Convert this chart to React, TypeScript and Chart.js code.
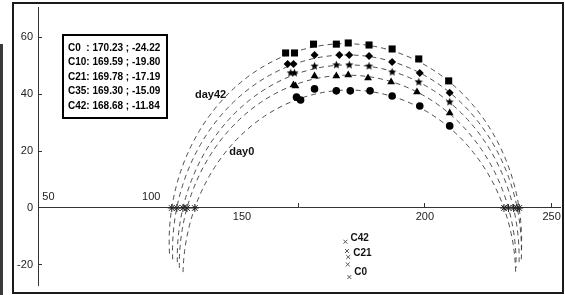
import { useEffect, useRef } from 'react';
import { Chart, registerables } from 'chart.js';
Chart.register(...registerables);

// ---- data ----
const yTicks = [-20, 0, 20, 40, 60];
const xTicks = [150, 200, 250];
const xTick50 = [50];
const xTick100 = [100];
const xTick150 = [150];

const day42X = [145.1, 148.6, 156.1, 165.1, 169.8, 178.0, 187.1, 197.6, 209.4];
const day42Y = [54.4, 54.4, 57.5, 57.5, 57.9, 57.2, 55.8, 52.3, 44.6];
const day35X = [145.9, 148.2, 156.5, 166.3, 170.2, 178.0, 187.1, 198.0, 209.8];
const day35Y = [50.5, 50.5, 53.7, 53.7, 53.7, 53.3, 51.2, 47.4, 40.4];
const day21X = [147.1, 148.6, 156.5, 165.1, 170.2, 178.0, 187.1, 197.6, 209.8];
const day21Y = [47.4, 47.4, 49.8, 50.2, 50.2, 49.8, 47.7, 44.2, 37.2];
const day10X = [148.2, 149.0, 156.5, 165.1, 169.8, 177.6, 186.7, 196.9, 209.8];
const day10Y = [43.2, 42.8, 46.3, 46.3, 46.7, 45.6, 44.2, 40.7, 33.3];
const day0X = [149.4, 151.0, 156.5, 165.1, 170.6, 178.4, 187.1, 198.0, 209.8];
const day0Y = [38.9, 37.9, 41.8, 41.1, 41.1, 41.1, 39.3, 35.8, 28.8];

const centerNames = ['C0', 'C10', 'C21', 'C35', 'C42'];
const centerX = [170.23, 169.59, 169.78, 169.3, 168.68];
const centerY = [-24.22, -19.8, -17.19, -15.09, -11.84];
const centerLabelShown = [true, false, true, false, true];
const arcRadius = [65.6, 66.4, 67.4, 68.8, 69.5];
const arcEndY = [-22.5, -21, -19, -18, -16];
const interceptLeftX = [109.3, 106.2, 104.6, 102.2, 100.2];
const interceptRightX = [231.2, 233.0, 235.0, 236.4, 237.2];

const curveLabels = ['day42', 'day0'];
const curveLabelX = [115.5, 127.8];
const curveLabelY = [39.6, 19.6];

const X_MIN = 47.45;
const X_MAX = 253.3;
const Y_MIN = -27.02;
const Y_MAX = 70.53;

const FONT = '"Liberation Sans", Arial, sans-serif';

function pts(xs: number[], ys: number[]) {
  return xs.map((x, i) => ({ x, y: ys[i] }));
}

function makeStar(r: number) {
  const c = document.createElement('canvas');
  const size = Math.ceil(r * 2) + 2;
  c.width = size;
  c.height = size;
  const g = c.getContext('2d')!;
  g.fillStyle = '#000';
  g.beginPath();
  for (let i = 0; i < 10; i++) {
    const rad = i % 2 === 0 ? r : r * 0.45;
    const ang = -Math.PI / 2 + (i * Math.PI) / 5;
    g.lineTo(size / 2 + rad * Math.cos(ang), size / 2 + rad * Math.sin(ang));
  }
  g.closePath();
  g.fill();
  return c;
}

const decorPlugin = {
  id: 'decor',
  beforeDraw(chart: any) {
    const ctx = chart.ctx;
    ctx.save();
    ctx.fillStyle = '#fff';
    ctx.fillRect(0, 0, chart.width, chart.height);
    ctx.restore();
  },
  beforeDatasetsDraw(chart: any) {
    const ctx = chart.ctx;
    const xs = chart.scales.x;
    const ys = chart.scales.y;
    ctx.save();
    ctx.strokeStyle = '#3a3a3a';
    ctx.lineWidth = 0.9;
    ctx.setLineDash([5, 4]);
    for (let i = 0; i < centerX.length; i++) {
      const cx = xs.getPixelForValue(centerX[i]);
      const cy = ys.getPixelForValue(centerY[i]);
      const rx = Math.abs(xs.getPixelForValue(centerX[i] + arcRadius[i]) - cx);
      const ry = Math.abs(ys.getPixelForValue(centerY[i] + arcRadius[i]) - cy);
      const s = Math.max(-1, Math.min(1, (ys.getPixelForValue(arcEndY[i]) - cy) / ry));
      const a = Math.asin(s);
      ctx.beginPath();
      ctx.ellipse(cx, cy, rx, ry, 0, Math.PI - a, 2 * Math.PI + a, false);
      ctx.stroke();
    }
    ctx.restore();
  },
  afterDraw(chart: any) {
    const ctx = chart.ctx;
    const xs = chart.scales.x;
    const ys = chart.scales.y;
    ctx.save();
    // frame
    ctx.strokeStyle = '#1a1a1a';
    ctx.lineWidth = 2;
    ctx.strokeRect(13, 3, 550, 290);
    ctx.fillStyle = '#3a3a3a';
    ctx.fillRect(0, 44, 3, 251);

    // legend box
    ctx.lineWidth = 2;
    ctx.strokeStyle = '#000';
    ctx.strokeRect(63, 35, 104, 83);
    ctx.fillStyle = '#000';
    ctx.font = 'bold 10px ' + FONT;
    ctx.textBaseline = 'middle';
    ctx.textAlign = 'left';
    for (let i = 0; i < centerNames.length; i++) {
      const n = centerNames[i].length < 3 ? centerNames[i] + '  ' : centerNames[i];
      const txt = `${n}: ${centerX[i].toFixed(2)} ; ${centerY[i].toFixed(2)}`;
      ctx.fillText(txt, 68, 48 + i * 14.5, 93);
    }

    // center labels
    ctx.font = 'bold 10px ' + FONT;
    ctx.fillStyle = '#111';
    for (let i = 0; i < centerNames.length; i++) {
      if (!centerLabelShown[i]) continue;
      const px = xs.getPixelForValue(centerX[i]);
      const py = ys.getPixelForValue(centerY[i]);
      const dy = centerNames[i] === 'C21' ? -4 : centerNames[i] === 'C0' ? -5 : -3;
      ctx.fillText(centerNames[i], px + 5, py + dy);
    }

    // curve labels
    ctx.font = 'bold 11px ' + FONT;
    ctx.textAlign = 'center';
    for (let i = 0; i < curveLabels.length; i++) {
      ctx.fillText(curveLabels[i], xs.getPixelForValue(curveLabelX[i]), ys.getPixelForValue(curveLabelY[i]));
    }
    ctx.restore();
  },
};

function labelAxis(values: number[], padding: number, offset: number) {
  return {
    type: 'linear',
    min: X_MIN,
    max: X_MAX,
    position: { y: 0 },
    grid: { display: false, drawTicks: false },
    border: { display: false },
    ticks: { padding, labelOffset: offset, color: '#222', font: { family: FONT, size: 11 }, maxRotation: 0 },
    afterBuildTicks: (s: any) => {
      s.ticks = values.map((v) => ({ value: v }));
    },
    afterFit: (s: any) => {
      s.height = 0;
      s.paddingLeft = 0;
      s.paddingRight = 0;
    },
  } as any;
}

export default function App() {
  const ref = useRef<HTMLCanvasElement | null>(null);
  useEffect(() => {
    if (!ref.current) return;
    const star = makeStar(4.3);
    const markerBase = { showLine: false, backgroundColor: '#000', borderColor: '#000', borderWidth: 0 };
    const chart = new Chart(ref.current, {
      type: 'scatter',
      data: {
        datasets: [
          { ...markerBase, label: 'day42', data: pts(day42X, day42Y), pointStyle: 'rect', pointRadius: 5 },
          { ...markerBase, label: 'day35', data: pts(day35X, day35Y), pointStyle: 'rectRot', pointRadius: 4 },
          { ...markerBase, label: 'day21', data: pts(day21X, day21Y), pointStyle: star as any, pointRadius: 4 },
          { ...markerBase, label: 'day10', data: pts(day10X, day10Y), pointStyle: 'triangle', pointRadius: 4.5 },
          { ...markerBase, label: 'day0', data: pts(day0X, day0Y), pointStyle: 'circle', pointRadius: 3.8 },
          {
            label: 'centers',
            data: pts(centerX, centerY),
            showLine: false,
            pointStyle: 'crossRot',
            pointRadius: 2.8,
            borderColor: '#555',
            borderWidth: 1,
            backgroundColor: 'transparent',
          },
          {
            label: 'intercepts',
            data: [...interceptLeftX, ...interceptRightX].map((x) => ({ x, y: 0 })),
            showLine: false,
            pointStyle: 'star',
            pointRadius: 4,
            borderColor: '#222',
            borderWidth: 1,
            backgroundColor: 'transparent',
          },
        ],
      },
      options: {
        responsive: false,
        animation: false,
        layout: { padding: { top: 7, bottom: 10, left: 0, right: 2 } },
        plugins: { legend: { display: false }, tooltip: { enabled: false } },
        scales: {
          x: {
            type: 'linear',
            min: X_MIN,
            max: X_MAX,
            position: { y: 0 } as any,
            grid: { drawOnChartArea: false, tickLength: -5, color: '#333' },
            border: { color: '#333', width: 1 },
            ticks: {
              padding: 7.4,
              color: '#222',
              font: { family: FONT, size: 11 },
              maxRotation: 0,
              callback: (v: any) => (xTick150.includes(Number(v)) ? '' : String(v)),
            },
            afterBuildTicks: (s: any) => {
              s.ticks = xTicks.map((v) => ({ value: v }));
            },
            afterFit: (s: any) => {
              s.height = 0;
              s.paddingLeft = 0;
              s.paddingRight = 0;
            },
          },
          x50: labelAxis(xTick50, -17.6, 4),
          x100: labelAxis(xTick100, -17.6, -20),
          x150: labelAxis(xTick150, 2.4, -56),
          y: {
            type: 'linear',
            position: 'left',
            min: Y_MIN,
            max: Y_MAX,
            grid: { drawOnChartArea: false, tickLength: -4, color: '#333' },
            border: { color: '#333', width: 1 },
            ticks: { padding: 9, color: '#222', font: { family: FONT, size: 11 } },
            afterBuildTicks: (s: any) => {
              s.ticks = yTicks.map((v) => ({ value: v }));
            },
            afterFit: (s: any) => {
              s.width = 38;
              s.paddingTop = 0;
              s.paddingBottom = 0;
            },
          },
        },
      },
      plugins: [decorPlugin],
    });
    return () => chart.destroy();
  }, []);
  return (
    <canvas
      ref={ref}
      width={565}
      height={295}
      style={{ position: 'absolute', left: 0, top: 0, width: 565, height: 295, display: 'block' }}
    />
  );
}
